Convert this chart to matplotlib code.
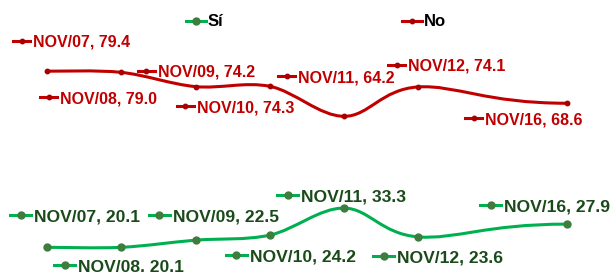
import numpy as np
import matplotlib.pyplot as plt
from matplotlib.path import Path
from matplotlib.patches import PathPatch
from matplotlib.lines import Line2D
from matplotlib.transforms import IdentityTransform

# data
categories = ["NOV/07", "NOV/08", "NOV/09", "NOV/10", "NOV/11", "NOV/12", "NOV/16"]
x_pos = [0, 1, 2, 3, 4, 5, 7]
no_values = [79.4, 79.0, 74.2, 74.3, 64.2, 74.1, 68.6]
si_values = [20.1, 20.1, 22.5, 24.2, 33.3, 23.6, 27.9]

# label placement (pixels): text start dx from point, key centre dy below point
no_offsets = [(-14, -30), (-61, 25), (-38, -16), (-73, 20), (-46, -40), (-10, -22), (-82, 15)]
si_offsets = [(-13, -32), (-43, 18), (-23, -25), (-20, 20), (-43, -13), (-21, 19), (-63, -19)]

RED = "#c00000"
RED_MK = "#a80000"
GREEN = "#00b050"
GREEN_MK = "#3d7d3d"
GREEN_TXT = "#1a4a1a"

plt.rcParams["font.family"] = ["Liberation Sans", "DejaVu Sans"]


def smooth_path(xs, ys):
    # cubic bezier through the points (catmull-rom style handles),
    # flat handle at the last point
    p = np.column_stack([xs, ys]).astype(float)
    n = len(p)
    verts = [p[0]]
    codes = [Path.MOVETO]
    for i in range(n - 1):
        prev = p[max(i - 1, 0)]
        c1 = p[i] + (p[i + 1] - prev) / 6
        if i + 2 < n:
            c2 = p[i + 1] - (p[i + 2] - p[i]) / 6
        else:
            c2 = p[i + 1] - [(p[i + 1][0] - p[i][0]) * 0.55, 0]
        verts += [c1, c2, p[i + 1]]
        codes += [Path.CURVE4] * 3
    return Path(verts, codes)


def draw_series(ax, values, color, lw, mk_color, ms):
    patch = PathPatch(smooth_path(x_pos, values), facecolor="none",
                      edgecolor=color, lw=lw, capstyle="round", zorder=2)
    ax.add_patch(patch)
    ax.plot(x_pos, values, ls="none", marker="o", ms=ms,
            mfc=mk_color, mec=mk_color, zorder=3)


def draw_labels(ax, values, offsets, color, mk_color, ms, key_w, txt_color, fs):
    for cat, x, v, (dx, dy) in zip(categories, x_pos, values, offsets):
        px, py = ax.transData.transform((x, v))
        tx = px + dx
        ky = py - dy
        k0 = tx - 3 - key_w
        ax.add_line(Line2D([k0, k0 + key_w], [ky, ky], color=color, lw=2.2,
                           transform=IdentityTransform(), zorder=4))
        ax.add_line(Line2D([k0 + key_w / 2], [ky], ls="none", marker="o", ms=ms,
                           mfc=mk_color, mec=mk_color,
                           transform=IdentityTransform(), zorder=5))
        em = fs * 100 / 72
        ax.text(tx, ky - 0.36 * em, f"{cat}, {v:.1f}", transform=IdentityTransform(),
                color=txt_color, fontsize=fs, fontweight="bold",
                ha="left", va="baseline", zorder=6)


fig = plt.figure(figsize=(6.15, 2.72), dpi=100)
ax = fig.add_axes([0, 0, 1, 1])
ax.set_xlim(-0.633, 7.646)
ax.set_ylim(11.78, 103.37)
ax.axis("off")

draw_series(ax, no_values, RED, 2.2, RED_MK, 3.2)
draw_series(ax, si_values, GREEN, 2.2, GREEN_MK, 5)

draw_labels(ax, no_values, no_offsets, RED, RED_MK, 3.2, 17, RED, 11.5)
draw_labels(ax, si_values, si_offsets, GREEN, GREEN_MK, 5, 21, GREEN_TXT, 12.6)

handles = [Line2D([], [], color=GREEN, lw=2.2, marker="o", ms=5, mfc=GREEN_MK, mec=GREEN_MK),
           Line2D([], [], color=RED, lw=2.2, marker="o", ms=3.2, mfc=RED_MK, mec=RED_MK)]
leg = ax.legend(handles, ["Sí", "No"], ncol=2, frameon=False,
                loc="center left", bbox_to_anchor=(186 / 615, 1 - 22 / 272),
                borderpad=0, borderaxespad=0, handlelength=1.2, handletextpad=0.1,
                columnspacing=10.7, prop={"weight": "bold", "size": 12})

fig.savefig("out.png", dpi=100)
